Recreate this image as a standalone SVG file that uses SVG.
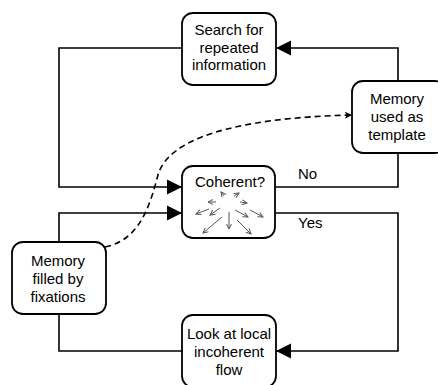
<svg xmlns="http://www.w3.org/2000/svg" width="438" height="385" viewBox="0 0 438 385">
<style>
.box{fill:#fff;stroke:#000;stroke-width:1.8}
.t{font-family:"Liberation Sans",Arial,sans-serif;font-size:15px;fill:#000;text-anchor:middle}
.lbl{font-family:"Liberation Sans",Arial,sans-serif;font-size:15px;fill:#000}
.c{fill:none;stroke:#000;stroke-width:1.6}
.d{fill:none;stroke:#000;stroke-width:1.6;stroke-dasharray:6,4}
.g{fill:none;stroke:#555;stroke-width:1}
</style>
<defs>
<marker id="blk" markerUnits="userSpaceOnUse" markerWidth="16" markerHeight="16" refX="15" refY="8" orient="auto" overflow="visible">
<path d="M0,0.5 L15,8 L0,15.5 Z" fill="#000"/>
</marker>
<marker id="sm" markerUnits="userSpaceOnUse" markerWidth="8" markerHeight="8" refX="7" refY="3.5" orient="auto" overflow="visible">
<path d="M0,0 L7,3.5 L0,7 L1.5,3.5 Z" fill="#000"/>
</marker>
<marker id="ga" markerUnits="userSpaceOnUse" markerWidth="6" markerHeight="6" refX="5" refY="2.5" orient="auto" overflow="visible">
<path d="M0,0 L5,2.5 L0,5" fill="none" stroke="#555" stroke-width="1"/>
</marker>
</defs>
<g id="connectors">
<path class="c" d="M398,81 V48 H276" marker-end="url(#blk)"/>
<path class="c" d="M182,48 H59 V187 H182" marker-end="url(#blk)"/>
<path class="c" d="M59,242 V213 H182" marker-end="url(#blk)"/>
<path class="c" d="M275,187 H398 V153"/>
<path class="c" d="M275,213 H398 V351 H276" marker-end="url(#blk)"/>
<path class="c" d="M59,314 V351 H182"/>
<path class="d" d="M105,247 C140,240 150,205 158,175 C168,140 230,118 352,115" marker-end="url(#sm)"/>
<text class="lbl" x="298" y="179">No</text>
<text class="lbl" x="298" y="228">Yes</text>
</g>
<g id="search">
<rect class="box" x="182" y="13" width="94" height="72" rx="11"/>
<text class="t" x="229" y="35">Search for</text>
<text class="t" x="229" y="52.5">repeated</text>
<text class="t" x="229" y="70">information</text>
</g>
<g id="template">
<rect class="box" x="352" y="81" width="94" height="72" rx="11"/>
<text class="t" x="397" y="104">Memory</text>
<text class="t" x="397" y="122">used as</text>
<text class="t" x="397" y="140">template</text>
</g>
<g id="coherent">
<rect class="box" x="182" y="166" width="93" height="72" rx="11"/>
<text class="t" x="230" y="187">Coherent?</text>
<g>
<path class="g" d="M224,196 L221,192" marker-end="url(#ga)"/>
<path class="g" d="M234,196 L239,193" marker-end="url(#ga)"/>
<path class="g" d="M216,202 L208,202" marker-end="url(#ga)"/>
<path class="g" d="M240,202 L247,203" marker-end="url(#ga)"/>
<path class="g" d="M209,209 L196,214" marker-end="url(#ga)"/>
<path class="g" d="M220,208 L210,215" marker-end="url(#ga)"/>
<path class="g" d="M229,212 L229,229" marker-end="url(#ga)"/>
<path class="g" d="M222,217 L203,233" marker-end="url(#ga)"/>
<path class="g" d="M235,210 L248,217" marker-end="url(#ga)"/>
<path class="g" d="M250,210 L263,217" marker-end="url(#ga)"/>
<path class="g" d="M237,220 L251,234" marker-end="url(#ga)"/>
</g>
</g>
<g id="filled">
<rect class="box" x="12" y="242" width="94" height="72" rx="11"/>
<text class="t" x="58" y="266">Memory</text>
<text class="t" x="58" y="284">filled by</text>
<text class="t" x="58" y="302">fixations</text>
</g>
<g id="look">
<rect class="box" x="182" y="315" width="94" height="72" rx="11"/>
<text class="t" x="229" y="339">Look at local</text>
<text class="t" x="229" y="357">incoherent</text>
<text class="t" x="229" y="375">flow</text>
</g>
</svg>
